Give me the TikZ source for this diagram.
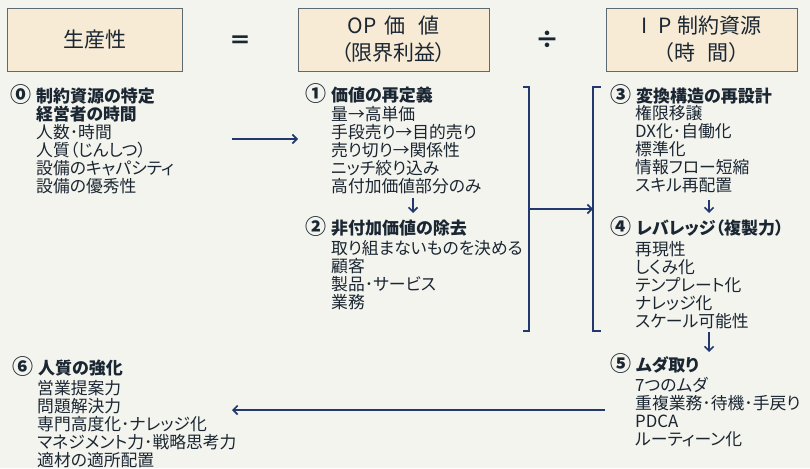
\documentclass[tikz,border=0pt]{standalone}
\usepackage{fontspec}
\setmainfont{Noto Sans CJK JP}[RawFeature=+palt]
\usetikzlibrary{arrows.meta}
\definecolor{bg}{HTML}{F4F4EF}
\definecolor{boxfill}{HTML}{F8EBD6}
\definecolor{boxline}{HTML}{5E6A72}
\definecolor{ink}{HTML}{1A2632}
\definecolor{navy}{HTML}{22386E}
\newcommand{\cnum}[1]{{\fontsize{21}{18}\selectfont\raisebox{-0.5pt}{#1}}\hspace{5pt}}
\tikzset{
  box/.style={draw=boxline, line width=0.8pt, fill=boxfill, minimum width=191pt, minimum height=63pt, align=center, text=ink, font=\fontsize{21}{27}\selectfont},
  head/.style={anchor=west, inner sep=0pt, text=ink, font=\bfseries\fontsize{17}{18}\selectfont},
  items/.style={anchor=north west, inner sep=0pt, align=left, text=ink, font=\fontsize{16.8}{18}\selectfont},
  link/.style={navy, line width=1.6pt},
  arr/.style={link, -{Straight Barb[length=4.5pt,width=9pt]}}
}
\begin{document}
\begin{tikzpicture}[x=1pt,y=-1pt]
\fill[bg] (0,0) rectangle (810,468);
\useasboundingbox (0,0) rectangle (810,468);
\node[box,minimum width=175pt] (P) at (94.5,39.5) {生産性};
\node[box] (OP) at (393.5,39.5) {OP\hspace{0.4em}価\hspace{0.6em}値\\（限界利益）};
\node[box] (IP) at (701.5,39.5) {I\hspace{0.5em}P\hspace{0.3em}制約資源\\（時\hspace{0.6em}間）};
\node[text=ink,font=\bfseries\fontsize{22}{22}\selectfont] (eq) at (240,42) {＝};
\node[text=ink,font=\bfseries\fontsize{24}{24}\selectfont] (dv) at (547,40) {÷};

\node[head] (h0) at (10,95) {\cnum{⓪}制約資源の特定};
\node[items] (l0) at (36,105.5) {\textbf{経営者の時間}\\人数･時間\\人質（じんしつ）\\設備のキャパシティ\\設備の優秀性};
\node[head] (h1) at (305,94) {\cnum{①}価値の再定義};
\node[items] (l1) at (331,106.5) {量→高単価\\手段売り→目的売り\\売り切り→関係性\\ニッチ絞り込み\\高付加価値部分のみ};
\node[head] (h2) at (305,227) {\cnum{②}非付加価値の除去};
\node[items] (l2) at (331,240.5) {取り組まないものを決める\\顧客\\製品･サービス\\業務};
\node[head] (h3) at (610,95) {\cnum{③}変換構造の再設計};
\node[items] (l3) at (635,105.5) {権限移譲\\DX化･自働化\\標準化\\情報フロー短縮\\スキル再配置};
\node[head] (h4) at (610,227) {\cnum{④}レバレッジ（複製力）};
\node[items] (l4) at (635,241.5) {再現性\\しくみ化\\テンプレート化\\ナレッジ化\\スケール可能性};
\node[head] (h5) at (610,364) {\cnum{⑤}ムダ取り};
\node[items] (l5) at (635,377.5) {7つのムダ\\重複業務･待機･手戻り\\PDCA\\ルーティーン化};
\node[head] (h6) at (12,367) {\cnum{⑥}人質の強化};
\node[items] (l6) at (37,380.5) {営業提案力\\問題解決力\\専門高度化･ナレッジ化\\マネジメント力･戦略思考力\\適材の適所配置};

\coordinate (a0) at (232,139);
\coordinate (a1) at (298,139);
\coordinate (d1) at (413,198);
\coordinate (d2) at (413,213);
\coordinate (d3) at (709,200);
\coordinate (d4) at (709,213);
\coordinate (d5) at (709,332);
\coordinate (d6) at (709,352);
\coordinate (b0) at (605,410);
\coordinate (b1) at (232,410);
\coordinate (L1) at (523,87);
\coordinate (L2) at (529,331);
\coordinate (L3) at (523,331);
\coordinate (R1) at (601,87);
\coordinate (R2) at (593,331);
\coordinate (R3) at (601,331);
\coordinate (m0) at (529,209);
\coordinate (m1) at (593,209);

\draw[arr] (a0) -- (a1);
\draw[arr] (d1) -- (d2);
\draw[arr] (d3) -- (d4);
\draw[arr] (d5) -- (d6);
\draw[arr] (b0) -- (b1);
\draw[link] (L1) -| (L2) -- (L3);
\draw[link] (R1) -| (R2) -- (R3);
\draw[arr] (m0) -- (m1);
\end{tikzpicture}
\end{document}
